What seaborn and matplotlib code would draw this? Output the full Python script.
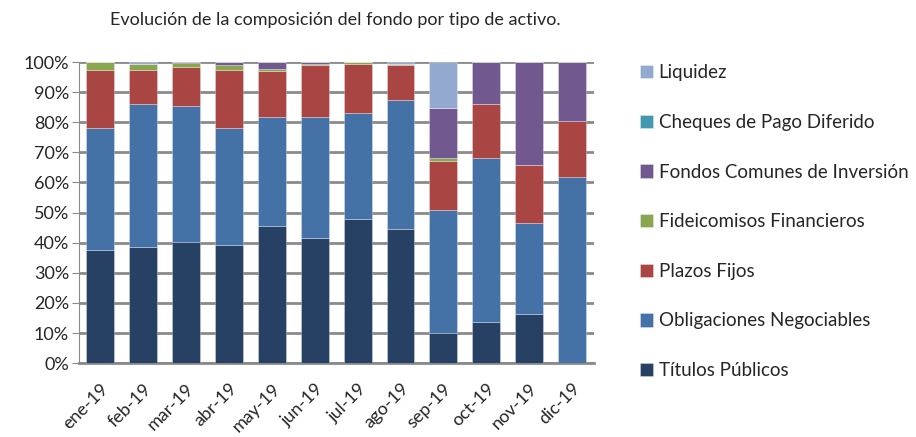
import matplotlib
matplotlib.use("Agg")
import matplotlib.pyplot as plt
import seaborn as sns
import numpy as np

months = ["ene-19", "feb-19", "mar-19", "abr-19", "may-19", "jun-19",
          "jul-19", "ago-19", "sep-19", "oct-19", "nov-19", "dic-19"]

titulos_publicos = [37.6, 38.5, 40.1, 39.3, 45.7, 41.4, 47.9, 44.4, 10.0, 13.5, 16.3, 0.0]
obligaciones_negociables = [40.5, 47.5, 45.2, 38.8, 36.0, 40.3, 35.3, 43.1, 40.7, 54.6, 30.2, 61.7]
plazos_fijos = [19.3, 11.5, 13.0, 19.4, 15.2, 17.2, 16.3, 11.4, 16.5, 17.9, 19.4, 18.7]
fideicomisos = [2.6, 2.0, 1.4, 1.5, 0.8, 0.6, 0.5, 0.5, 0.9, 0.0, 0.0, 0.0]
fondos_comunes = [0.0, 0.0, 0.3, 1.0, 2.3, 0.5, 0.0, 0.0, 16.5, 14.0, 34.1, 19.6]
cheques = [0.0] * 12
liquidez = [0.0, 0.5, 0.0, 0.0, 0.0, 0.0, 0.0, 0.6, 15.4, 0.0, 0.0, 0.0]

series = [
    ("Títulos Públicos", titulos_publicos, "#264163"),
    ("Obligaciones Negociables", obligaciones_negociables, "#4472A6"),
    ("Plazos Fijos", plazos_fijos, "#A94543"),
    ("Fideicomisos Financieros", fideicomisos, "#89A54E"),
    ("Fondos Comunes de Inversión", fondos_comunes, "#71588F"),
    ("Cheques de Pago Diferido", cheques, "#4198AF"),
    ("Liquidez", liquidez, "#93A9CF"),
]

sns.set_style("white")
plt.rcParams["font.family"] = ["Lato", "DejaVu Sans"]

fig = plt.figure(figsize=(9.16, 4.37), dpi=100)
ax = fig.add_axes([0.086, 0.169, 0.562, 0.689])

bottom = np.zeros(len(months))
for name, vals, color in series:
    vals = np.array(vals, dtype=float)
    sns.barplot(x=months, y=vals, bottom=bottom, color=color, width=0.65,
                ax=ax, label=name, edgecolor=(1, 1, 1, 0.35), linewidth=0.6,
                saturation=1, zorder=3)
    bottom = bottom + vals

handles, labels = ax.get_legend_handles_labels()
if ax.get_legend() is not None:
    ax.get_legend().remove()

ax.set_ylim(0, 100)
ax.set_xlim(-0.5, 11.5)
ax.set_yticks(np.arange(0, 101, 10))
ax.set_yticklabels([f"{v}%" for v in range(0, 101, 10)], fontsize=13)
ax.yaxis.grid(True, color="#8a8a8a", linewidth=2, zorder=0)
ax.set_axisbelow(True)
for s in ["top", "right"]:
    ax.spines[s].set_visible(False)
ax.spines["left"].set_color("#8a8a8a")
ax.spines["bottom"].set_color("#8a8a8a")
ax.spines["bottom"].set_linewidth(2)
ax.tick_params(axis="y", left=True, length=5, color="#8a8a8a", pad=2)
ax.tick_params(axis="x", bottom=False, pad=9)
plt.setp(ax.get_xticklabels(), rotation=45, ha="right", rotation_mode="anchor", fontsize=13)
ax.set_xlabel("")
ax.set_ylabel("")

fig.text(0.366, 1 - 20 / 437, "Evolución de la composición del fondo por tipo de activo.",
         ha="center", va="center", fontsize=13)

fig.legend(handles[::-1], labels[::-1], loc="upper left",
           bbox_to_anchor=(0.690, 0.870), frameon=False, fontsize=13.5,
           handlelength=0.72, handleheight=0.72, handletextpad=0.3,
           labelspacing=1.74, borderaxespad=0)

fig.savefig("out.png", dpi=100)
